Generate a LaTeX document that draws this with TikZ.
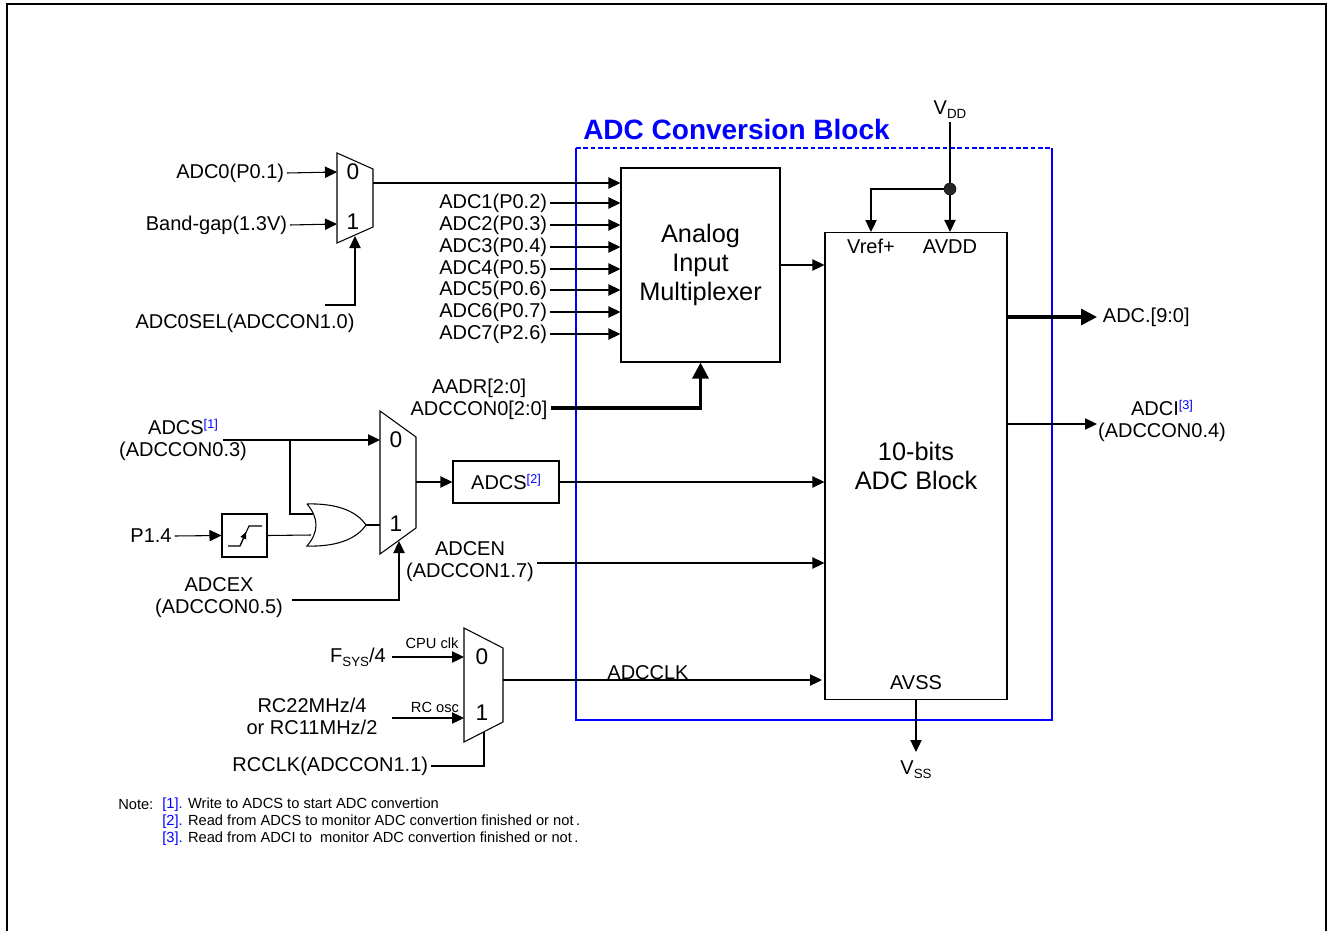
\documentclass[tikz,border=0pt]{standalone}
\usepackage{fontspec}
\setmainfont{Liberation Sans}
\usetikzlibrary{positioning, arrows.meta}
\tikzset{
	lbl/.style={font=\fontsize{15}{16.5}\selectfont, inner sep=2pt, align=center},
	muxlbl/.style={font=\fontsize{17}{17}\selectfont, inner sep=0pt},
	smalllbl/.style={font=\fontsize{11}{12}\selectfont, inner sep=0pt},
	biglbl/.style={font=\fontsize{19}{21.5}\selectfont, align=center},
	notelbl/.style={font=\fontsize{11}{12}\selectfont, inner sep=0pt, anchor=west},
	blk/.style={draw, line width=0.8pt, inner sep=0pt},
	sig/.style={line width=0.8pt},
	busline/.style={line width=2.4pt},
	bustip/.style={-{Triangle[length=12pt,width=12pt]}},
	muxshape/.style={draw, line width=0.8pt, fill=white}
}
\newcommand{\refmk}[1]{\raisebox{5pt}{\fontsize{9.5}{9.5}\selectfont\color{blue}[#1]}}
\newcommand{\subtx}[1]{\raisebox{-3pt}{\fontsize{10}{10}\selectfont #1}}

\begin{document}
\begin{tikzpicture}[x=0.75pt, y=-0.75pt, >={Triangle[length=9pt,width=8.5pt]}]
\useasboundingbox (0,0) rectangle (1328,931);
% outer frame
\draw[line width=1.5pt] (7,931) -- (7,4) -- (1326,4) -- (1326,931);

% conversion block frame
\draw[blue, line width=0.8pt] (576,148) -- (576,720) -- (1052,720) -- (1052,148);
\draw[blue, line width=0.8pt, dash pattern=on 3.5pt off 2pt] (576,148) -- (1052,148);
\node[anchor=base west, inner sep=0pt, text=blue, font=\fontsize{21}{24}\selectfont\bfseries] (title) at (583,139) {ADC Conversion Block};

% main blocks
\node (amux) [blk, minimum width=119.25pt, minimum height=145.5pt] at (700.5,265) {};
\node (amuxtxt) [biglbl] at (700.5,265) {Analog\\Input\\Multiplexer};
\node (adc) [blk, minimum width=136.5pt, minimum height=350.25pt] at (916,466) {};
\node (adctxt) [biglbl] at (916,466) {10-bits\\ADC Block};
\node (vref) [lbl] at (871,246) {Vref+};
\node (avdd) [lbl] at (950,247) {AVDD};
\node (avss) [lbl] at (916,683) {AVSS};

% mux A (ADC0 / band-gap)
\draw[muxshape] (337,153) -- (373,169) -- (373,227) -- (337,243) -- cycle;
\node (ma0) [muxlbl] at (353,172) {0};
\node (ma1) [muxlbl] at (353,222) {1};
\coordinate (maIn0) at (337,172);
\coordinate (maIn1) at (337,224);
\coordinate (maSel) at (355,236);
\coordinate (maOut) at (373,183);
\node (adc0) [lbl, anchor=east] at (287,173) {ADC0(P0.1)};
\node (bg) [lbl, anchor=east] at (290,225) {Band-gap(1.3V)};
\node (adc0sel) [lbl] at (245,323) {ADC0SEL(ADCCON1.0)};
\coordinate (adc0selS) at (325,305);
\draw[sig,->] (adc0.east) -- (maIn0);
\draw[sig,->] (bg.east) -- (maIn1);
\draw[sig,->] (adc0selS) -| (maSel);
\draw[sig,->] (maOut) -- (maOut -| amux.west);

% analog inputs
\foreach \i/\p/\y in {1/P0.2/203, 2/P0.3/225, 3/P0.4/247, 4/P0.5/269, 5/P0.6/290, 6/P0.7/312, 7/P2.6/334}{
	\node (adc\i) [lbl, anchor=east] at (550,\y) {ADC\i(\p)};
	\draw[sig,->] (adc\i.east) -- (adc\i.east -| amux.west);
}
\draw[sig,->] (amux.east) -- (amux.east -| adc.west);

% channel select bus
\node (aadr) [lbl] at (479,399) {AADR[2:0]\\ADCCON0[2:0]};
\coordinate (busS) at (551,408);
\draw[line width=2.4pt, bustip] (busS) -| (amux.south);

% supply
\node (vdd) [lbl] at (950,110) {V\subtx{DD}};
\node (dot) [circle, fill=black!85, draw, inner sep=0pt, minimum size=9pt] at (950,189) {};
\coordinate (vrefIn) at (871,232);
\draw[sig] (vdd.south) -- (dot);
\draw[sig,->] (dot) -- (dot |- adc.north);
\draw[sig,->] (dot) -| (vrefIn);
\node (vss) [lbl] at (916,770) {V\subtx{SS}};
\coordinate (vssIn) at (916,752);
\draw[sig,->] (adc.south) -- (vssIn);

% outputs
\coordinate (doutS) at (1007,317);
\coordinate (adciS) at (1007,424);
\node (dout) [lbl, anchor=west] at (1100,317) {ADC.[9:0]};
\node (adci) [lbl] at (1162,421) {ADCI\refmk{3}\\(ADCCON0.4)};
\draw[line width=2.4pt, bustip] (doutS) -- (1097,317);
\draw[sig,->] (adciS) -- (1097,424);

% mux B (ADCS start)
\draw[muxshape] (380,411) -- (416,437) -- (416,528) -- (380,554) -- cycle;
\node (mb0) [muxlbl] at (396,440) {0};
\node (mb1) [muxlbl] at (396,524) {1};
\coordinate (mbIn0) at (380,440);
\coordinate (mbIn1) at (380,525);
\coordinate (mbSel) at (399,541);
\coordinate (mbOut) at (416,482);
\node (adcs) [lbl] at (183,440) {ADCS\refmk{1}\\(ADCCON0.3)};
\coordinate (adcsS) at (223,440);
\coordinate (adcsJ) at (290,440);
\node (p14) [lbl] at (151,536) {P1.4};
\node (st) [blk, minimum width=33.75pt, minimum height=32.25pt] at (244.5,535.5) {};
\draw[sig] (228,546) -- (240,546) -- (249,526) -- (262,526);
\draw[sig,-{Triangle[length=5pt,width=4.5pt]}] (240,546) -- (246,532);
% or gate
\draw[sig] (307,504) .. controls (340,503) and (358,513) .. (366,525)
	.. controls (358,537) and (340,547) .. (307,546)
	.. controls (319,532) and (319,518) .. (307,504);
\coordinate (orA) at (313,514);
\coordinate (orB) at (311,535);
\coordinate (orO) at (366,525);
\draw[sig,->] (adcsS) -- (mbIn0);
\draw[sig] (adcsJ) |- (orA);
\draw[sig,->] (p14.east) -- (st.west);
\draw[sig] (st.east) -- (orB);
\draw[sig] (orO) -- (mbIn1);
\node (adcex) [lbl] at (219,598) {ADCEX\\(ADCCON0.5)};
\coordinate (adcexS) at (292,600);
\draw[sig,->] (adcexS) -| (mbSel);
\node (adcs2) [blk, minimum width=79.5pt, minimum height=31.5pt, lbl] at (506,482) {ADCS\refmk{2}};
\draw[sig,->] (mbOut) -- (adcs2.west);
\draw[sig,->] (adcs2.east) -- (adcs2.east -| adc.west);
\node (adcen) [lbl] at (470,562) {ADCEN\\(ADCCON1.7)};
\coordinate (adcenS) at (537,563);
\draw[sig,->] (adcenS) -- (adcenS -| adc.west);

% mux C (clock)
\draw[muxshape] (464,628) -- (503,648) -- (503,722) -- (464,742) -- cycle;
\node (mc0) [muxlbl] at (482,657) {0};
\node (mc1) [muxlbl] at (482,713) {1};
\coordinate (mcIn0) at (464,657);
\coordinate (mcIn1) at (464,718);
\coordinate (mcSel) at (484,732);
\coordinate (mcOut) at (503,680);
\node (fsys) [lbl] at (358,657) {F\subtx{SYS}/4};
\node (cpuclk) [smalllbl] at (432,643) {CPU clk};
\node (rcosc) [lbl] at (312,716) {RC22MHz/4\\or RC11MHz/2};
\node (rcosclbl) [smalllbl] at (435,707) {RC osc};
\coordinate (rcS) at (392,718);
\node (rcclk) [lbl, anchor=east] at (431,766) {RCCLK(ADCCON1.1)};
\draw[sig,->] (392,657) -- (mcIn0);
\draw[sig,->] (rcS) -- (mcIn1);
\draw[sig] (rcclk.east) -| (mcSel);
\node (adcclk) [lbl] at (648,673) {ADCCLK};
\draw[sig,->] (mcOut) -- (822,680);

% notes
\node (note) [notelbl] at (118,805) {Note:};
\node (n1) [notelbl] at (162,805) {\textcolor{blue}{[1].} Write to ADCS to start ADC convertion};
\node (n2) [notelbl] at (162,822) {\textcolor{blue}{[2].} Read from ADCS to monitor ADC convertion finished or not\,.};
\node (n3) [notelbl] at (162,839) {\textcolor{blue}{[3].} Read from ADCI to \ monitor ADC convertion finished or not\,.};
\end{tikzpicture}
\end{document}
